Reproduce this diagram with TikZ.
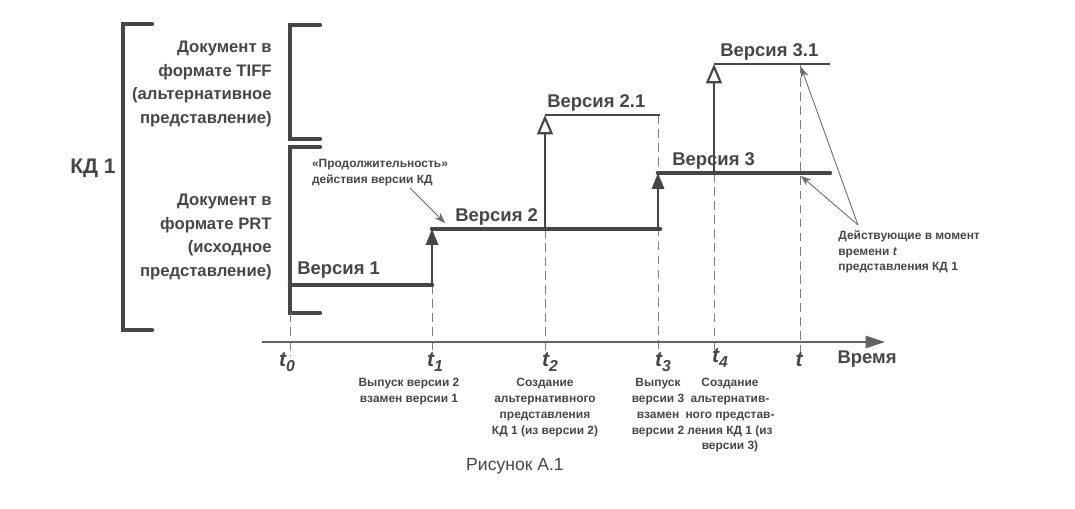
\documentclass[tikz,border=0pt]{standalone}
\usepackage{fontspec}
\setmainfont{Liberation Sans}
\usetikzlibrary{arrows.meta}
\definecolor{ink}{RGB}{70,70,70}
\newcommand{\tsub}[1]{t\raisebox{-0.45ex}{\fontsize{9}{10}\selectfont\bfseries #1}}
\begin{document}
\begin{tikzpicture}[x=0.02cm,y=-0.02cm,
  br/.style={line width=2.4pt,ink,line cap=round},
  thk/.style={line width=2.6pt,ink,line cap=round},
  thn/.style={line width=1.3pt,ink},
  dsh/.style={ink!70,line width=0.5pt,dash pattern=on 5pt off 3pt},
  fillarr/.style={line width=1.2pt,ink,-{Triangle[length=9pt,width=7pt]}},
  openarr/.style={line width=1.2pt,ink,-{Triangle[open,length=11pt,width=9pt,fill=white]}},
  lab/.style={font=\fontsize{9.5}{13.5}\selectfont\bfseries,text=ink,inner sep=0pt},
  ver/.style={font=\fontsize{10.5}{12}\selectfont\bfseries,text=ink,inner sep=0pt,anchor=base west},
  sm/.style={font=\fontsize{6.8}{9}\selectfont\bfseries,text=ink,inner sep=0pt,align=center,anchor=north},
  tl/.style={font=\fontsize{12}{12}\selectfont\itshape\bfseries,text=ink,inner sep=0pt,anchor=base}]
\useasboundingbox (0,0) rectangle (1075,508);
% brackets
\draw[br] (152,24) -- (123,24) -- (123,330) -- (152,330);
\draw[br] (320,25) -- (290,25) -- (290,139) -- (320,139);
\draw[br] (320,147) -- (290,147) -- (290,313) -- (320,313);
\node[lab,font=\fontsize{12}{14}\selectfont\bfseries] (kd) at (93,168) {КД 1};
\node[lab,align=right,anchor=east] (tiff) at (272,84) {Документ в\\формате TIFF\\(альтернативное\\представление)};
\node[lab,align=right,anchor=east] (prt) at (272,237) {Документ в\\формате PRT\\(исходное\\представление)};
% coordinates
\coordinate (a0) at (290,285); \coordinate (a1) at (432,285);
\coordinate (b1) at (432,229); \coordinate (b3) at (660,229);
\coordinate (b2) at (545,229); \coordinate (c2) at (545,115); \coordinate (c3) at (660,115);
\coordinate (d3) at (658,229); \coordinate (e3) at (658,173); \coordinate (e5) at (830,173);
\coordinate (e4) at (714,173); \coordinate (f4) at (714,64); \coordinate (f5) at (830,64);
% dashed verticals
\foreach \x/\y in {290/313,432/285,545/229,658/115,714/173,800/64}
  \draw[dsh] (\x,\y) -- (\x,356);
% axis
\coordinate (ax0) at (262,342); \coordinate (ax1) at (885,342);
\draw[line width=1pt,ink!85,-{Triangle[length=11pt,width=7pt]}] (ax0) -- (ax1);
% versions
\draw[thk] (a0) -- (a1);
\draw[fillarr] (a1) -- (b1);
\draw[thk] (b1) -- (b3);
\draw[openarr] (b2) -- (c2);
\draw[thn] (c2) -- (c3);
\draw[fillarr] (d3) -- (e3);
\draw[thk] (e3) -- (e5);
\draw[openarr] (e4) -- (f4);
\draw[thn] (f4) -- (f5);
\node[ver] (v1) at (297,274) {Версия 1};
\node[ver] (v2) at (455,221) {Версия 2};
\node[ver] (v21) at (547,107) {Версия 2.1};
\node[ver] (v3) at (672,165) {Версия 3};
\node[ver] (v31) at (720,56) {Версия 3.1};
% annotations
\node[sm,anchor=center,align=left] (dur) at (380,173) {«Продолжительность»\\действия версии КД};
\coordinate (dt) at (445,223);
\draw[ink!80,line width=0.6pt,-{Stealth[length=6pt]}] (410,188) -- (dt);
\node[sm,anchor=north west,align=left] (act) at (838,230) {Действующие в момент\\времени \textit{t}\\представления КД 1};
\coordinate (p1) at (801,67); \coordinate (p2) at (801,176);
\draw[ink!80,line width=0.5pt,-{Stealth[length=6pt]}] (858,225) -- (p1);
\draw[ink!80,line width=0.5pt,-{Stealth[length=6pt]}] (858,225) -- (p2);
% time labels
\node[tl] (t0) at (287,366) {\tsub{0}};
\node[tl] (t1) at (435,366) {\tsub{1}};
\node[tl] (t2) at (550,366) {\tsub{2}};
\node[tl] (t3) at (663,366) {\tsub{3}};
\node[tl] (t4) at (720,362) {\tsub{4}};
\node[tl] (t) at (799,366) {t};
\node[lab,font=\fontsize{10.5}{12}\selectfont\bfseries,anchor=base] (time) at (867,363) {Время};
\node[sm] (c1) at (409,378) {Выпуск версии 2\\взамен версии 1};
\node[sm] (cc2) at (545,378) {Создание\\альтернативного\\представления\\КД 1 (из версии  2)};
\node[sm] (cc3) at (658,378) {Выпуск\\версии 3\\взамен\\версии 2};
\node[sm] (cc4) at (730,378) {Создание\\альтернатив-\\ного представ-\\ления КД 1  (из\\версии 3)};
\node[font=\fontsize{10}{12}\selectfont,text=ink] (fig) at (515,466) {Рисунок А.1};
\end{tikzpicture}
\end{document}
